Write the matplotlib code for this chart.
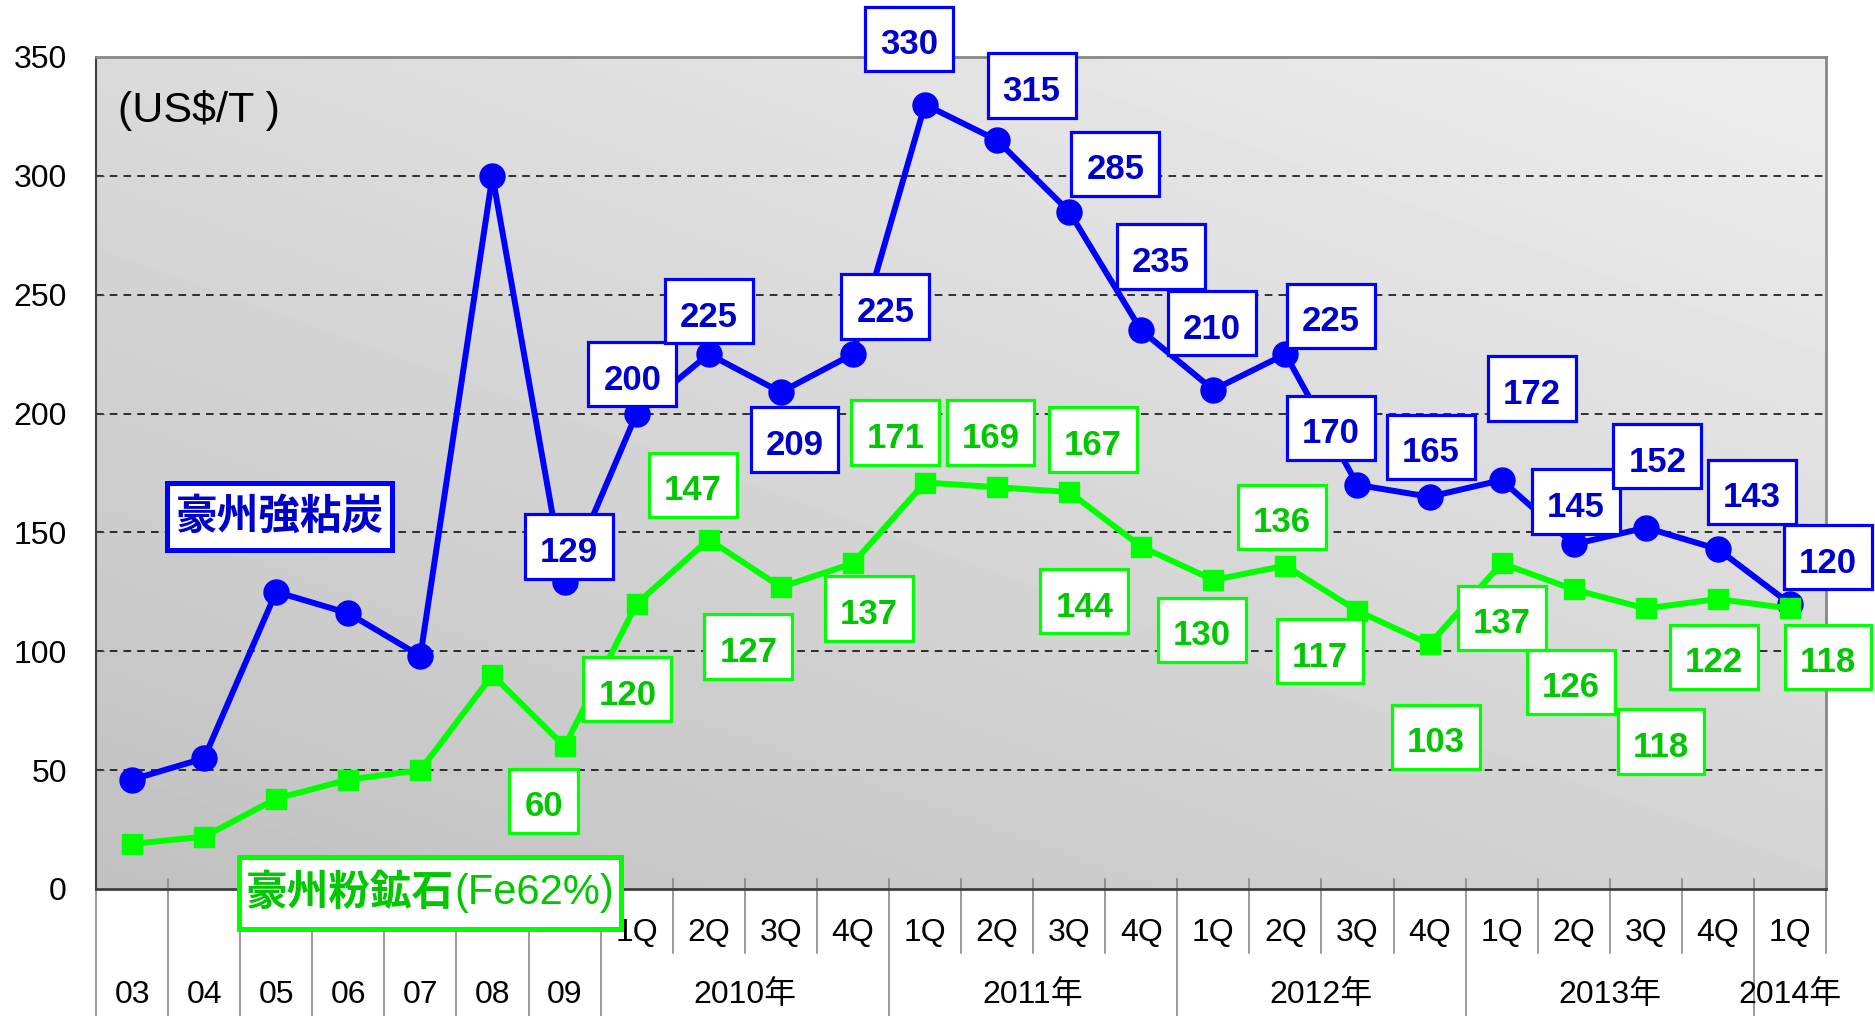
import matplotlib
matplotlib.use('Agg')
import matplotlib.pyplot as plt
import numpy as np
from matplotlib.path import Path
from matplotlib.transforms import ScaledTranslation

# ---------------- data ----------------
categories = ['03', '04', '05', '06', '07', '08', '09',
              '1Q', '2Q', '3Q', '4Q', '1Q', '2Q', '3Q', '4Q',
              '1Q', '2Q', '3Q', '4Q', '1Q', '2Q', '3Q', '4Q', '1Q']
year_labels = ['2010年', '2011年', '2012年', '2013年', '2014年']
year_first = [7, 11, 15, 19, 23]
year_last = [10, 14, 18, 22, 23]
coal = [46, 55, 125, 116, 98, 300, 129, 200, 225, 209, 225, 330, 315, 285,
        235, 210, 225, 170, 165, 172, 145, 152, 143, 120]
ore = [19, 22, 38, 46, 50, 90, 60, 120, 147, 127, 137, 171, 169, 167,
       144, 130, 136, 117, 103, 137, 126, 118, 122, 118]
coal_name = '豪州強粘炭'
ore_name = '豪州粉鉱石'
ore_suffix = '(Fe62%)'
unit_text = '(US$/T )'
yticks = [0, 50, 100, 150, 200, 250, 300, 350]

# label offsets (layout): index -> (dx, dy) in data units
coal_lbl = {6: (0.06, 15), 7: (-0.06, 16.5), 8: (0, 18), 9: (0.19, -20),
            10: (0.45, 20), 11: (-0.22, 27.5), 12: (0.48, 23), 13: (0.64, 20),
            14: (0.27, 31), 15: (-0.02, 28), 16: (0.63, 16), 17: (-0.37, 24),
            18: (0.02, 21), 19: (0.42, 38.5), 20: (0.03, 18), 21: (0.16, 30),
            22: (0.47, 24), 23: (0.53, 19.5)}
ore_lbl = {6: (-0.29, -23), 7: (-0.13, -36), 8: (-0.22, 23), 9: (-0.45, -25),
           10: (0.22, -19), 11: (-0.41, 21), 12: (-0.09, 23), 13: (0.33, 22),
           14: (-0.79, -23), 15: (-0.16, -21), 16: (-0.05, 20.6), 17: (-0.52, -17),
           18: (0.09, -39), 19: (0.0, -23), 20: (-0.04, -39), 21: (0.21, -56),
           22: (-0.05, -24.3), 23: (0.53, -20.3)}

BLUE = '#0000ff'
BLUE_T = '#0000cc'
GREEN = '#00ff00'
GREEN_T = '#00c800'
SEP = '#808080'


class PadBox:
    def __init__(self, left, right, bottom, top):
        self.l, self.r, self.b, self.t = left, right, bottom, top

    def __call__(self, x0, y0, width, height, mutation_size):
        m = mutation_size
        xa = x0 - self.l * m
        xb = x0 + width + self.r * m
        ya = y0 - self.b * m
        yb = y0 + height + self.t * m
        return Path([(xa, ya), (xb, ya), (xb, yb), (xa, yb), (xa, ya)],
                    closed=True)


fig = plt.figure(figsize=(18.75, 10.16), dpi=100)
ax = fig.add_axes([96 / 1875, 127 / 1016, 1730 / 1875, 832 / 1016])

n = len(categories)
x = np.arange(n)
ax.set_xlim(-0.5, n - 0.5)
ax.set_ylim(0, 350)

# gradient background
gx, gy = np.meshgrid(np.linspace(0, 1, 200), np.linspace(0, 1, 200))
grad = 0.755 + 0.075 * gx + 0.10 * gy
ax.imshow(grad, extent=(-0.5, n - 0.5, 0, 350), origin='lower', aspect='auto',
          cmap='gray', vmin=0, vmax=1, zorder=0, interpolation='bilinear')

for v in yticks[1:-1]:
    ax.axhline(v, color='black', lw=1.1, ls=(0, (5, 4)), zorder=1)

# spines
for s in ['top', 'right']:
    ax.spines[s].set_color('#888888')
    ax.spines[s].set_linewidth(2)
ax.spines['left'].set_color('#404040')
ax.spines['left'].set_linewidth(1.5)
ax.spines['bottom'].set_color('#404040')
ax.spines['bottom'].set_linewidth(2)

ax.set_yticks(yticks)
ax.set_yticklabels([str(v) for v in yticks], fontsize=23, family='Liberation Sans')
ax.tick_params(axis='y', direction='in', length=6, pad=21, color='#404040')
ax.set_xticks([])

# lines
ax.plot(x, coal, color=BLUE, lw=4.3, marker='o', ms=18, zorder=4, clip_on=False)
ax.plot(x, ore, color=GREEN, lw=4.3, marker='s', ms=15, zorder=4, clip_on=False)

# data labels
shift = ax.transData + ScaledTranslation(0, -0.058, fig.dpi_scale_trans)
num_box = PadBox(0.43, 0.43, 0.28, 0.62)


def lbl(i, vals, off, tcol, ecol):
    dx, dy = off
    ax.text(i + dx, vals[i] + dy, str(vals[i]), ha='center', va='center',
            fontsize=25, fontweight='bold', family='Liberation Sans', color=tcol,
            zorder=6, clip_on=False, transform=shift,
            bbox=dict(boxstyle=num_box, fc='white', ec=ecol, lw=2.3))


for i, off in coal_lbl.items():
    lbl(i, coal, off, BLUE_T, BLUE)
for i, off in ore_lbl.items():
    lbl(i, ore, off, GREEN_T, GREEN)

# series name boxes
ax.text(2.05, 156.7, coal_name, ha='center', va='center', fontsize=30,
        fontweight='bold', family=['Noto Sans CJK JP'], color=BLUE_T, zorder=6,
        bbox=dict(boxstyle=PadBox(0.2, 0.2, 0.3, 0.3), fc='white', ec=BLUE, lw=3.6))

# green name: bold CJK part + regular latin part inside one box
t1 = ax.text(4.13, -1.7, ore_name + ' ' * 0, ha='right', va='center', fontsize=30,
             fontweight='bold', family=['Noto Sans CJK JP'], color=GREEN_T,
             zorder=7, clip_on=False)
fig.canvas.draw()
r = fig.canvas.get_renderer()
bb1 = t1.get_window_extent(renderer=r)
t2 = ax.annotate(ore_suffix, xy=(1.0, 0.5), xycoords=t1, ha='left', va='center',
                 fontsize=30, family='Liberation Sans', color=GREEN_T, zorder=7,
                 annotation_clip=False)
fig.canvas.draw()
bb2 = t2.get_window_extent(renderer=r)
# shift both so that the combined text is centred on the target point
cx_target = ax.transData.transform((4.13, -1.7))[0]
total_w = bb1.width + bb2.width
dxp = (cx_target - total_w / 2 + bb1.width) - bb1.x1
t1.set_transform(ax.transData + ScaledTranslation(dxp / 100, 0, fig.dpi_scale_trans))
fig.canvas.draw()
bb1 = t1.get_window_extent(renderer=r)
bb2 = t2.get_window_extent(renderer=r)
padx, pady = 7, 11
x0 = min(bb1.x0, bb2.x0) - padx
x1 = max(bb1.x1, bb2.x1) + padx
yc = ax.transData.transform((4.13, -1.7))[1]
h = 72
rect = plt.Rectangle((x0, yc - h / 2), x1 - x0, h, transform=None, fc='white',
                     ec=GREEN, lw=3.6, zorder=6, clip_on=False)
ax.add_artist(rect)

ax.text(-0.195, 327.7, unit_text, ha='left', va='center', fontsize=31,
        family='Liberation Sans', color='black', zorder=5)

# category axis (multi-level)
ybot = -54
yq = -27
for i, c in enumerate(categories):
    yy = -44.6 if i < 7 else -18.5
    ax.text(i, yy, c, ha='center', va='center', fontsize=23,
            family='Liberation Sans', clip_on=False)

long_bounds = [b - 0.5 for b in range(0, 8)] + [f - 0.5 for f in year_first[1:]]
for b in long_bounds:
    ax.plot([b, b], [0, ybot], color=SEP, lw=1.1, clip_on=False, zorder=2)
for i in range(7, n + 1):
    b = i - 0.5
    if b not in long_bounds:
        ax.plot([b, b], [4, yq], color=SEP, lw=1.1, clip_on=False, zorder=2)
for b in long_bounds[1:]:
    ax.plot([b, b], [0, 4], color=SEP, lw=1.1, clip_on=False, zorder=2)

for lab, a, b in zip(year_labels, year_first, year_last):
    ax.text((a + b) / 2, -44.6, lab, ha='center', va='center', fontsize=23,
            family=['Liberation Sans', 'Noto Sans CJK JP'], clip_on=False)

fig.savefig('out.png', dpi=100, facecolor='white')
